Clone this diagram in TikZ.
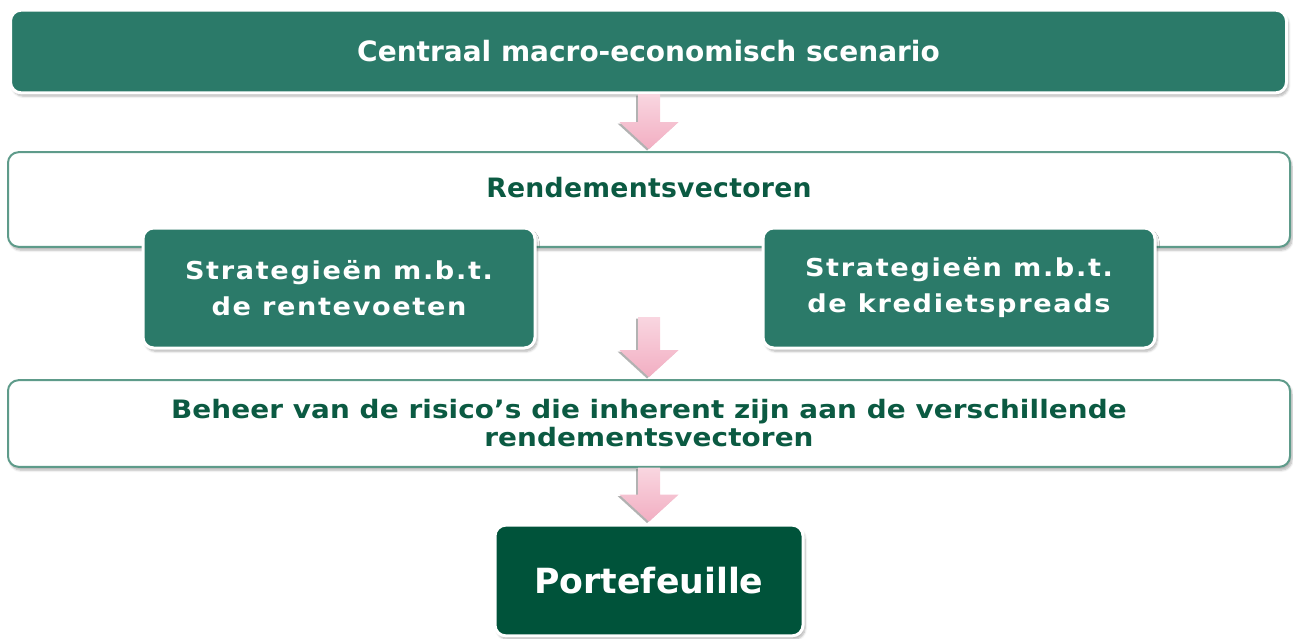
\documentclass[tikz,border=0pt]{standalone}
\usepackage{fontspec}
\newfontfamily\boxfont{DejaVu Sans}
\usetikzlibrary{shadows.blur}
\definecolor{midgreen}{HTML}{2B7A69}
\definecolor{darkgreen}{HTML}{00533A}
\definecolor{edgegreen}{HTML}{5E9B8A}
\definecolor{inkgreen}{HTML}{0B5A42}
\definecolor{pinklight}{HTML}{F9D6E0}
\definecolor{pinkdark}{HTML}{F2AEC2}

\tikzset{
  boxshadow/.style={blur shadow={shadow xshift=1.5pt, shadow yshift=-2.5pt,
      shadow blur steps=6, shadow opacity=30}},
  greenbox/.style={rectangle, rounded corners=8pt, fill=midgreen, draw=white,
      line width=2.25pt, text=white, align=center, boxshadow},
  whitebox/.style={rectangle, rounded corners=8pt, fill=white, draw=edgegreen,
      line width=1.5pt, text=inkgreen, align=center, boxshadow},
  arrowshade/.style={top color=pinklight, bottom color=pinkdark},
  arrowshadow/.style={fill=black!55, opacity=.55}
}
\newcommand\boxtext[4]{\boxfont\bfseries
  \addfontfeature{LetterSpace=#3,FakeStretch=#4}\fontsize{#1}{#2}\selectfont}

\begin{document}
\begin{tikzpicture}[x=0.75pt,y=-0.75pt]
\useasboundingbox (0,0) rectangle (1293,639);

% boxes
\node[greenbox, minimum width=957pt, minimum height=62pt,
  font=\boxtext{21}{25}{0}{1}] (scen) at (648.5,51.5)
  {Centraal macro-economisch scenario};
\node[whitebox, minimum width=961.5pt, minimum height=71pt] (rend) at (649,199.5) {};
\node[text=inkgreen, font=\boxtext{20}{24}{1}{1}] (rendtxt)
  at (649,188) {Rendementsvectoren};
\node[greenbox, minimum width=294pt, minimum height=90pt,
  font=\boxtext{18.5}{27}{6.7}{1.1}] (rente) at (339,288)
  {Strategieën m.b.t.\\de rentevoeten};
\node[greenbox, minimum width=294pt, minimum height=90pt,
  font=\boxtext{18.5}{27}{6.7}{1.1}] (krediet) at (959,288)
  {Strategieën m.b.t.\\de kredietspreads};
\node[whitebox, minimum width=961.5pt, minimum height=65pt,
  font=\boxtext{19}{21}{0.4}{1.1}] (beheer) at (649,423.5)
  {Beheer van de risico’s die inherent zijn aan de verschillende\\rendementsvectoren};
\node[greenbox, fill=darkgreen, minimum width=231pt, minimum height=83pt,
  font=\boxtext{26}{32}{0}{1}] (port) at (649,580.5)
  {Portefeuille};

% block arrows down onto each box
\foreach \n/\len in {rend/55, beheer/60, port/54}{
  \fill[arrowshadow] ([xshift=-1.5pt,yshift=0.5pt]\n.north) -- ++(-29.5,-27) -- ++(18.5,0)
    -- ++(0,{-(\len-27)}) -- ++(22,0) -- ++(0,{\len-27}) -- ++(18.5,0) -- cycle;
  \shade[arrowshade] ([yshift=1.5pt]\n.north) -- ++(-29.5,-27) -- ++(18.5,0)
    -- ++(0,{-(\len-27)}) -- ++(22,0) -- ++(0,{\len-27}) -- ++(18.5,0) -- cycle;
}
\end{tikzpicture}
\end{document}
